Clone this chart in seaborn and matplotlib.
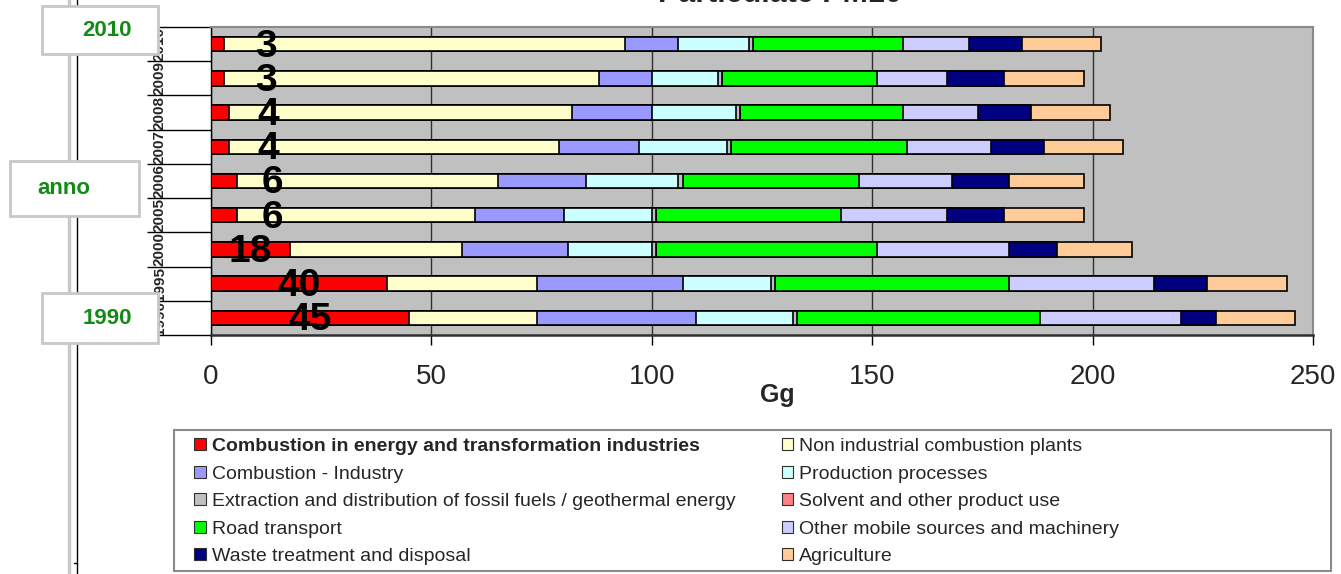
import numpy as np
import pandas as pd
import matplotlib.pyplot as plt
import seaborn as sns
from matplotlib.patches import Rectangle, Patch
from matplotlib.lines import Line2D

# data (Gg), years bottom -> top
years = ['1990', '1995', '2000', '2005', '2006', '2007', '2008', '2009', '2010']
energy = [45, 40, 18, 6, 6, 4, 4, 3, 3]
non_industrial = [29, 34, 39, 54, 59, 75, 78, 85, 91]
comb_industry = [36, 33, 24, 20, 20, 18, 18, 12, 12]
production = [22, 20, 19, 20, 21, 20, 19, 15, 16]
extraction = [1, 1, 1, 1, 1, 1, 1, 1, 1]
solvent = [0, 0, 0, 0, 0, 0, 0, 0, 0]
road = [55, 53, 50, 42, 40, 40, 37, 35, 34]
other_mobile = [32, 33, 30, 24, 21, 19, 17, 16, 15]
waste = [8, 12, 11, 13, 13, 12, 12, 13, 12]
agriculture = [18, 18, 17, 18, 17, 18, 18, 18, 18]

sectors = ['Combustion in energy and transformation industries',
           'Non industrial combustion plants',
           'Combustion - Industry',
           'Production processes',
           'Extraction and distribution of fossil fuels / geothermal energy',
           'Solvent and other product use',
           'Road transport',
           'Other mobile sources and machinery',
           'Waste treatment and disposal',
           'Agriculture']
colors = ['#ff0000', '#ffffcc', '#9999ff', '#ccffff', '#c0c0c0',
          '#ff8080', '#00ff00', '#ccccff', '#000080', '#ffcc99']
series = [energy, non_industrial, comb_industry, production, extraction,
          solvent, road, other_mobile, waste, agriculture]

df = pd.DataFrame(dict(zip(sectors, series)))
df['year'] = years
cum = df[sectors].cumsum(axis=1)
cum['year'] = years
order = years[::-1]

sns.set_style('white')
plt.rcParams['font.family'] = ['Liberation Sans', 'DejaVu Sans']

fig = plt.figure(figsize=(13.41, 5.74), dpi=100)
ax = fig.add_axes([211/1341, (574-335)/574, 1102/1341, 308/574])
ax.set_facecolor('#c0c0c0')

# stacked bars: draw cumulative totals from the outermost layer inwards
for name, col in reversed(list(zip(sectors, colors))):
    sns.barplot(data=cum, x=name, y='year', order=order, orient='h',
                color=col, width=0.42, edgecolor='black', linewidth=1.2,
                errorbar=None, saturation=1, ax=ax, zorder=3)

# red segment values
for i, yr in enumerate(order):
    v = df.loc[df['year'] == yr, sectors[0]].iloc[0]
    xpos = v / 2 + 11 if v < 10 else v / 2
    ax.text(xpos, i + 0.07, f'{v:.0f}', ha='center', va='center',
            fontsize=28, fontweight='bold', color='black', zorder=5)

ax.set_xlim(0, 250)
ax.set_xticks([0, 50, 100, 150, 200, 250])
ax.xaxis.grid(True, color='#303030', lw=1)
ax.set_axisbelow(True)
ax.tick_params(axis='x', length=7, width=1, color='black', direction='out',
               labelsize=20, pad=14, bottom=True)
ax.set_xlabel('Gg', fontsize=18, fontweight='bold')
ax.xaxis.set_label_coords((777-211)/1102, -0.155)

ax.set_ylabel('')
ax.set_yticks(range(len(order)))
ax.set_yticklabels(order, rotation=90, va='center', fontsize=11, fontweight='bold')
ax.tick_params(axis='y', which='major', length=0, pad=32)
ax.set_yticks(np.arange(-0.5, len(order), 1), minor=True)
ax.tick_params(axis='y', which='minor', length=46, width=1, color='black', left=True)

for s in ['top', 'right']:
    ax.spines[s].set_color('#8a8a8a')
    ax.spines[s].set_linewidth(1.5)
ax.spines['left'].set_color('black')
ax.spines['left'].set_linewidth(1)
ax.spines['bottom'].set_color('#303030')
ax.spines['bottom'].set_linewidth(1.8)

fig.text(780/1341, 1 - 2/574, 'Particulate PM10', ha='center', va='baseline',
         fontsize=22, fontweight='bold')

# legend
handles = [Patch(facecolor=c, edgecolor='#303030', lw=0.8) for c in colors]
idx = [0, 2, 4, 6, 8, 1, 3, 5, 7, 9]
leg = fig.legend([handles[k] for k in idx], [sectors[k] for k in idx], ncol=2,
                 loc='upper left', bbox_to_anchor=(194/1341, 1 - 438/574),
                 frameon=False, fontsize=14, handlelength=0.6, handleheight=0.6,
                 handletextpad=0.3, columnspacing=2.4, labelspacing=0.54,
                 borderpad=0, borderaxespad=0)
leg.get_texts()[0].set_fontweight('bold')
fig.add_artist(Rectangle((174/1341, 1 - 571/574), (1331-174)/1341, 141/574,
                         transform=fig.transFigure, facecolor='none',
                         edgecolor='#8a8a8a', lw=1.5))

# left decorations
fig.add_artist(Line2D([69/1341]*2, [0, 1], color='#c8c8c8', lw=2.5, transform=fig.transFigure))
fig.add_artist(Line2D([77/1341]*2, [0, 1], color='black', lw=1, transform=fig.transFigure))
fig.add_artist(Line2D([74/1341, 77/1341], [1 - 563/574]*2, color='black', lw=1,
                      transform=fig.transFigure))

for (x0, y0, x1, y1, tx, label) in [(42, 6, 158, 54, 107, '2010'),
                                     (10, 161, 139, 216, 64, 'anno'),
                                     (42, 293, 158, 343, 107, '1990')]:
    fig.add_artist(Rectangle((x0/1341, 1 - y1/574), (x1-x0)/1341, (y1-y0)/574,
                             transform=fig.transFigure, facecolor='white',
                             edgecolor='#c8c8c8', lw=2, zorder=10))
    fig.text(tx/1341, 1 - (y0+y1)/2/574, label, ha='center', va='center',
             fontsize=16, fontweight='bold', color='#138a13', zorder=11)

fig.savefig('out.png', dpi=100)
